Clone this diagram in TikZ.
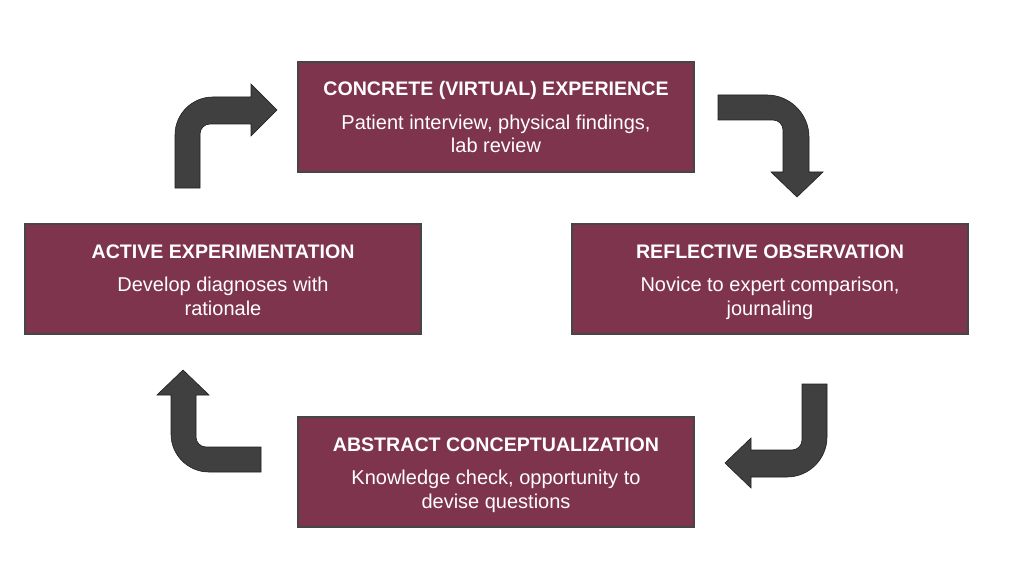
\documentclass[tikz,border=0pt]{standalone}
\usepackage{fontspec}
\setmainfont{Liberation Sans}
\definecolor{boxfill}{HTML}{7F344D}
\definecolor{boxline}{HTML}{464646}
\definecolor{arrowfill}{HTML}{404040}
\definecolor{arrowline}{HTML}{1E1E1E}
% #1 name, #2 x, #3 y, #4 title, #5 line 1, #6 line 2
\newcommand{\stage}[6]{%
  \node[stagebox] (#1) at (#2,#3) {};
  \node[stagetitle] (#1-t) at (#2,#3-21) {#4};
  \node[stagetext] (#1-a) at (#2,#3+12.5) {#5};
  \node[stagetext] (#1-b) at (#2,#3+36) {#6};}
\begin{document}
\begin{tikzpicture}[x=1pt,y=-1pt,
  stagebox/.style={draw=boxline, line width=2pt, fill=boxfill,
    minimum width=396pt, minimum height=110pt, inner sep=0pt},
  stagetitle/.style={anchor=base, inner sep=0pt, text=white,
    font=\bfseries\fontsize{19.6}{23}\selectfont},
  stagetext/.style={anchor=base, inner sep=0pt, text=white,
    font=\fontsize{20}{23}\selectfont},
  bent/.style={fill=arrowfill, draw=arrowline, line width=0.6pt, line join=miter}]
\useasboundingbox (0,0) rectangle (1023,575);

\stage{ce}{496}{117}{CONCRETE (VIRTUAL) EXPERIENCE}{Patient interview, physical findings,}{lab review}
\stage{ae}{223}{279}{ACTIVE EXPERIMENTATION}{Develop diagnoses with}{rationale}
\stage{ro}{770}{279}{REFLECTIVE OBSERVATION}{Novice to expert comparison,}{journaling}
\stage{ac}{496}{472}{ABSTRACT CONCEPTUALIZATION}{Knowledge check, opportunity to}{devise questions}

% top-left arrow (up then right)
\draw[bent] (175,188) -- (175,135) .. controls (175,114) and (192,97) .. (213,97)
  -- (251,97) -- (251,84) -- (277,110) -- (251,136) -- (251,124)
  -- (210,124) .. controls (204.5,124) and (200,128.5) .. (200,134) -- (200,188) -- cycle;

% top-right arrow (right then down)
\draw[bent] (718,95) -- (767,95) .. controls (790,95) and (809,114) .. (809,137)
  -- (809,172) -- (823,172) -- (797,197) -- (771,172) -- (783,172)
  -- (783,130) .. controls (783,124.5) and (778.5,120) .. (773,120) -- (718,120) -- cycle;

% bottom-right arrow (down then left)
\draw[bent] (827,384) -- (827,437) .. controls (827,459) and (809,477) .. (787,477)
  -- (751,477) -- (751,488) -- (725,463) -- (751,438) -- (751,450)
  -- (792,450) .. controls (797.5,450) and (802,445.5) .. (802,440) -- (802,384) -- cycle;

% bottom-left arrow (left then up)
\draw[bent] (261,472) -- (209,472) .. controls (188,472) and (171,455) .. (171,434)
  -- (171,395) -- (157,395) -- (183,370) -- (209,395) -- (196,395)
  -- (196,437) .. controls (196,442.5) and (200.5,447) .. (206,447) -- (261,447) -- cycle;
\end{tikzpicture}
\end{document}
